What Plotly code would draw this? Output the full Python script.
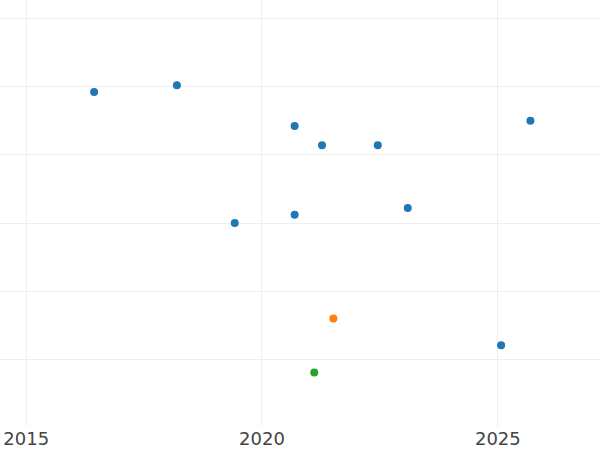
import plotly.graph_objects as go

blue_dates = ["2016-06-10", "2018-03-13", "2020-09-10", "2021-04-10", "2022-06-16",
              "2025-09-10", "2019-06-04", "2020-09-10", "2023-02-03", "2025-01-26"]
blue_values = [39.2, 40.2, 34.2, 31.4, 31.4, 35.0, 20.0, 21.2, 22.2, 2.1]
orange_dates = ["2021-07-07"]
orange_values = [6.0]
green_dates = ["2021-02-09"]
green_values = [-1.9]

fig = go.Figure()
for d, v, c in [(blue_dates, blue_values, "#1f77b4"),
                (orange_dates, orange_values, "#ff7f0e"),
                (green_dates, green_values, "#2ca02c")]:
    fig.add_trace(go.Scatter(x=d, y=v, mode="markers",
                             marker=dict(color=c, size=8), showlegend=False))

fig.update_layout(
    template="none",
    width=600, height=450,
    margin=dict(l=0, r=0, t=0, b=24),
    paper_bgcolor="white", plot_bgcolor="white",
    font=dict(family="DejaVu Sans", size=18, color="#444"),
    xaxis=dict(type="date", range=["2014-06-12", "2027-03-03"],
               tickvals=["2015-01-01", "2020-01-01", "2025-01-01"],
               ticktext=["2015", "2020", "2025"], ticklabeloverflow="allow",
               showgrid=True, gridcolor="#eee", zeroline=False, showline=False, ticks=""),
    yaxis=dict(range=[-9.75, 52.68], dtick=10, tick0=0, showticklabels=False,
               showgrid=True, gridcolor="#eee", zeroline=False, showline=False, ticks=""),
)
fig.write_html("out.html", config={"displayModeBar": False},
               post_script="document.body.style.margin='0';")
